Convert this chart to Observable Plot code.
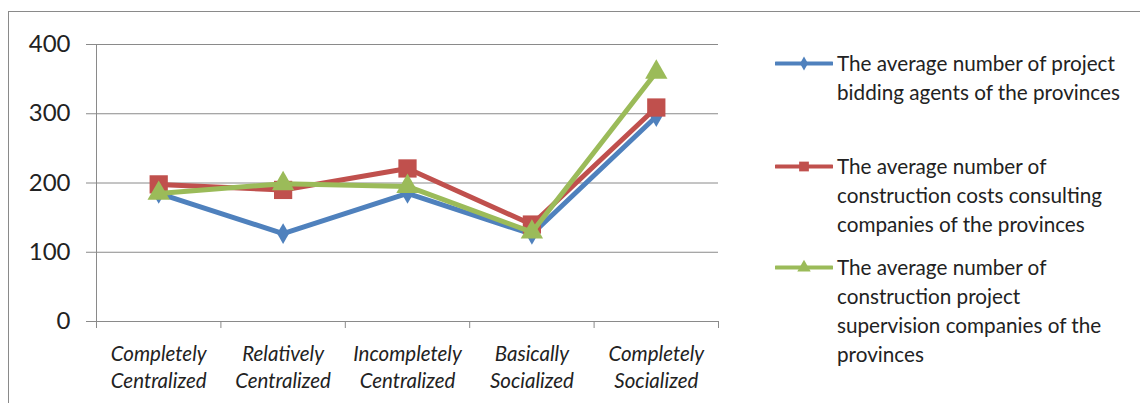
<!DOCTYPE html>
<html><head><meta charset="utf-8">
<script src="https://cdn.jsdelivr.net/npm/d3@7"></script>
<script src="https://cdn.jsdelivr.net/npm/@observablehq/plot@0.6"></script>
<style>
body{margin:0;background:#fff;}
#wrap{position:relative;width:1140px;height:403px;overflow:hidden;background:#fff;}
#frame{position:absolute;left:8px;top:11px;width:1200px;height:500px;border-left:1px solid #8a8a8a;border-top:1px solid #8a8a8a;}
#chart{position:absolute;left:0;top:0;}
#legend{position:absolute;left:0;top:0;font-family:Lato,sans-serif;font-size:20.7px;color:#222;}
.entry{position:absolute;left:775px;display:flex;align-items:flex-start;}
.entry svg{flex:none;margin-top:0px;}
.entry .t{line-height:29px;white-space:pre;margin-left:4px;}
</style></head>
<body><div id="wrap"><div id="frame"></div><div id="chart"></div><div id="legend"></div></div>
<script>
const categories = ["Completely\nCentralized","Relatively\nCentralized","Incompletely\nCentralized","Basically\nSocialized","Completely\nSocialized"];
const seriesNames = [
  "The average number of project\nbidding agents of the provinces",
  "The average number of\nconstruction costs consulting\ncompanies of the provinces",
  "The average number of\nconstruction project\nsupervision companies of the\nprovinces"
];
const bidding = [185, 127, 185, 126, 296];
const costConsulting = [198, 190, 221, 140, 309];
const supervision = [185, 199, 195, 129, 360];
const yTicks = [0, 100, 200, 300, 400];
const colors = ["#4F81BD", "#C0504D", "#9BBB59"];
const symbols = ["diamond", "square", "triangle"];
const radii = [6.3, 10.3, 8.3];
const allValues = [bidding, costConsulting, supervision];

const idx = categories.map((_, i) => i);
const boundaries = d3.range(-0.5, categories.length, 1);
const series = allValues.map((vals, s) => vals.map((v, i) => ({i, v, s})));

const marks = [
  Plot.gridY(yTicks, {stroke: "#8a8a8a", strokeOpacity: 1, strokeWidth: 1}),
  Plot.axisY(yTicks, {label: null, tickSize: 10, tickPadding: 16, stroke: "#8a8a8a", fontSize: 24, fontFamily: "Lato, sans-serif", fill: "#222", tickFormat: d => String(d)}),
  Plot.axisX(boundaries, {label: null, tickSize: 7, stroke: "#8a8a8a", tickFormat: () => ""}),
  Plot.axisX(idx, {label: null, tickSize: 0, tickPadding: 20, fontSize: 20.5, fontStyle: "italic", fontFamily: "Lato, sans-serif", fill: "#222", lineHeight: 1.32, tickFormat: i => categories[i]}),
  Plot.ruleX([-0.5], {stroke: "#8a8a8a"})
];
series.forEach((data, s) => {
  marks.push(Plot.line(data, {x: "i", y: "v", stroke: colors[s], strokeWidth: 5, curve: "linear"}));
  marks.push(Plot.dot(data, {x: "i", y: "v", symbol: () => symbols[s], fill: colors[s], stroke: "none", r: radii[s]}));
});

const chart = Plot.plot({
  width: 1140, height: 403,
  marginLeft: 96, marginRight: 422, marginTop: 44, marginBottom: 82,
  x: {type: "linear", domain: [-0.5, categories.length - 0.5], axis: null, label: null},
  y: {domain: [0, 400], axis: null, label: null},
  style: {background: "transparent", overflow: "visible"},
  marks
});
document.getElementById("chart").appendChild(chart);

const legend = document.getElementById("legend");
const tops = [49, 152, 253];
const lsym = [4.2, 5.5, 5];
seriesNames.forEach((name, s) => {
  const e = document.createElement("div");
  e.className = "entry";
  e.style.top = tops[s] + "px";
  const w = 58, h = 29;
  const sym = d3.symbol(s === 0 ? d3.symbolDiamond : s === 1 ? d3.symbolSquare : d3.symbolTriangle, Math.PI * lsym[s] * lsym[s])();
  e.innerHTML = `<svg width="${w}" height="${h}"><line x1="1" x2="${w-1}" y1="${h/2}" y2="${h/2}" stroke="${colors[s]}" stroke-width="4" stroke-linecap="round"/><path d="${sym}" transform="translate(${w/2},${h/2})" fill="${colors[s]}"/></svg><div class="t"></div>`;
  e.querySelector(".t").textContent = name;
  legend.appendChild(e);
});
</script></body></html>
